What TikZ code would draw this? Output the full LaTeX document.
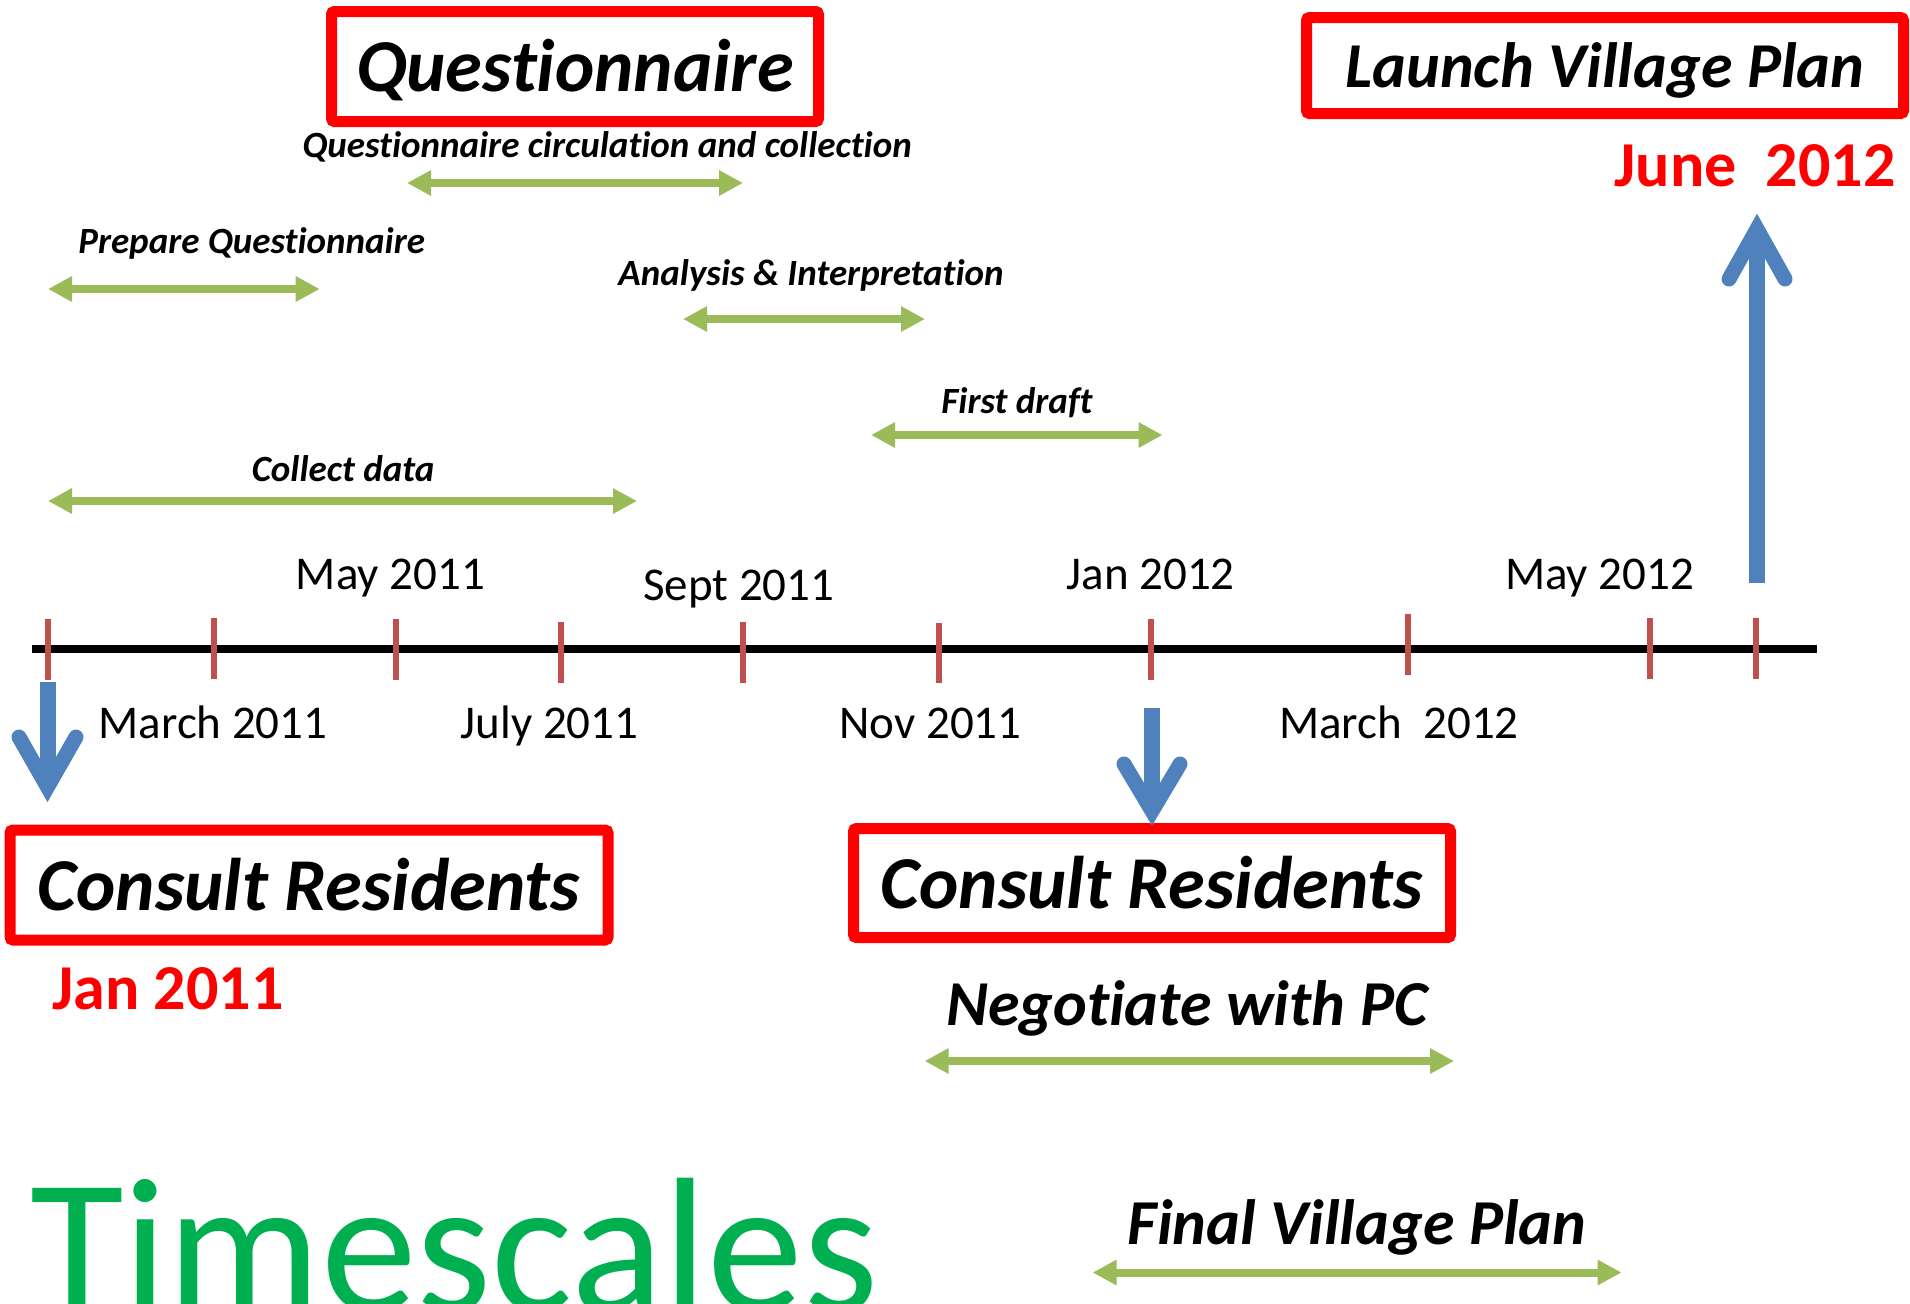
\documentclass[tikz,border=0pt]{standalone}
\usepackage{fontspec}
\setmainfont[Ligatures=NoCommon]{Carlito}
\usetikzlibrary{arrows.meta}
\definecolor{boxred}{HTML}{FF0000}
\definecolor{greenarrow}{HTML}{9BBB59}
\definecolor{bluearrow}{HTML}{4F81BD}
\definecolor{tickred}{HTML}{C0504D}
\definecolor{tsgreen}{HTML}{00B050}
\begin{document}
\begin{tikzpicture}[x=0.5pt,y=-0.5pt,
  redbox/.style={draw=boxred, line width=5.5pt, fill=white, rounded corners=1.5pt, inner sep=0pt, text depth=0pt},
  boxtext/.style={font=\fontsize{37.3pt}{41pt}\selectfont\bfseries\itshape},
  midtext/.style={font=\fontsize{32pt}{36pt}\selectfont\bfseries\itshape},
  smalllbl/.style={anchor=base, inner sep=0pt, font=\fontsize{18.5pt}{22pt}\selectfont\bfseries\itshape},
  datelbl/.style={anchor=base, inner sep=0pt, font=\fontsize{23.5pt}{28pt}\selectfont},
  biglbl/.style={anchor=base, inner sep=0pt, font=\fontsize{32pt}{36pt}\selectfont\bfseries\itshape},
  redlbl/.style={anchor=base, inner sep=0pt, text=boxred, font=\fontsize{32pt}{36pt}\selectfont\bfseries},
  garrow/.style={draw=greenarrow, line width=4pt, {Triangle[length=12pt,width=12pt]}-{Triangle[length=12pt,width=12pt]}},
  tickmark/.style={draw=tickred, line width=3pt},
  blueshaft/.style={draw=bluearrow, line width=8pt},
  bluehead/.style={draw=bluearrow, line width=7.5pt, line cap=round, line join=miter},
]
\useasboundingbox (0,0) rectangle (1910,1303);

% timeline
\coordinate (tlA) at (32,649);
\coordinate (tlB) at (1817,649);
\draw[line width=4pt] (tlA) -- (tlB);
\foreach \x/\a/\b in {47.5/619/680, 214.3/618/679, 395.6/619/680, 561/622/683, 743.4/622/683, 939.4/623/683, 1151.3/619/680, 1408/614/675, 1650.2/618/679, 1756/618/679}
  \draw[tickmark] (\x,\a) -- (\x,\b);

% date labels
\node[datelbl] (dMay11) at (390.4,589) {May 2011};
\node[datelbl] (dSep11) at (738.8,600) {Sept 2011};
\node[datelbl] (dJan12) at (1150.6,589) {Jan 2012};
\node[datelbl] (dMay12) at (1599.5,589) {May 2012};
\node[datelbl] (dMar11) at (213,738) {March 2011};
\node[datelbl] (dJul11) at (549.6,738) {July 2011};
\node[datelbl] (dNov11) at (930.5,738) {Nov 2011};
\node[datelbl] (dMar12) at (1399,738) {March~~2012};

% boxes
\node[redbox, boxtext, minimum width=243.5pt, minimum height=55pt, text height=24.5pt] (qbox) at (575,66.5) {Questionnaire};
\node[redbox, midtext, minimum width=298.5pt, minimum height=48pt, text height=21.5pt] (lbox) at (1605,65.5) {Launch Village Plan};
\node[redbox, boxtext, minimum width=299pt, minimum height=55pt, text height=25pt] (cbox1) at (309,885) {Consult Residents};
\node[redbox, boxtext, minimum width=298.5pt, minimum height=54.5pt, text height=25pt] (cbox2) at (1152,883) {Consult Residents};

% red date labels
\node[redlbl] (june) at (1755,186) {June~~2012};
\node[redlbl] (jan11) at (168,1009) {Jan 2011};

% activity labels
\node[smalllbl] (lqc) at (607,157.5) {Questionnaire circulation and collection};
\node[smalllbl] (lpq) at (251.7,253.7) {Prepare Questionnaire};
\node[smalllbl] (lai) at (811,285) {Analysis \& Interpretation};
\node[smalllbl] (lfd) at (1017,413.5) {First draft};
\node[smalllbl] (lcd) at (343,481) {Collect data};
\node[biglbl] (lnp) at (1186.7,1025) {Negotiate with PC};
\node[biglbl] (lfv) at (1357,1244) {Final Village Plan};

% green arrows
\coordinate (qcA) at (407,183);    \coordinate (qcB) at (743,183);
\coordinate (pqA) at (48,289); \coordinate (pqB) at (319.7,289);
\coordinate (aiA) at (683,319);  \coordinate (aiB) at (925,319);
\coordinate (fdA) at (871,435);  \coordinate (fdB) at (1162.5,435);
\coordinate (cdA) at (48,501);     \coordinate (cdB) at (637,501);
\coordinate (npA) at (924.6,1061); \coordinate (npB) at (1454,1061);
\coordinate (fvA) at (1092.6,1272.5); \coordinate (fvB) at (1621.6,1272.5);
\draw[garrow] (qcA) -- (qcB);
\draw[garrow] (pqA) -- (pqB);
\draw[garrow] (aiA) -- (aiB);
\draw[garrow] (fdA) -- (fdB);
\draw[garrow] (cdA) -- (cdB);
\draw[garrow] (npA) -- (npB);
\draw[garrow] (fvA) -- (fvB);

% blue arrows
\coordinate (b1s) at (47.5,682);  \coordinate (b1v) at (47.5,787);
\coordinate (b1l) at (19,737);  \coordinate (b1r) at (76,737);
\draw[blueshaft] (b1s) -- (b1v);
\draw[bluehead] (b1l) -- (b1v) -- (b1r);

\coordinate (b2s) at (1152,708);  \coordinate (b2v) at (1152,811);
\coordinate (b2l) at (1124,764);  \coordinate (b2r) at (1180,764);
\draw[blueshaft] (b2s) -- (b2v);
\draw[bluehead] (b2l) -- (b2v) -- (b2r);

\coordinate (b3s) at (1757,583);  \coordinate (b3v) at (1757,229);
\coordinate (b3l) at (1729,279);  \coordinate (b3r) at (1785,279);
\draw[blueshaft] (b3s) -- (b3v);
\draw[bluehead] (b3l) -- (b3v) -- (b3r);

% title
\node[anchor=base west, inner sep=0pt, text=tsgreen, font=\fontsize{96pt}{100pt}\selectfont] (title) at (30,1311) {Timescales};
\end{tikzpicture}
\end{document}
